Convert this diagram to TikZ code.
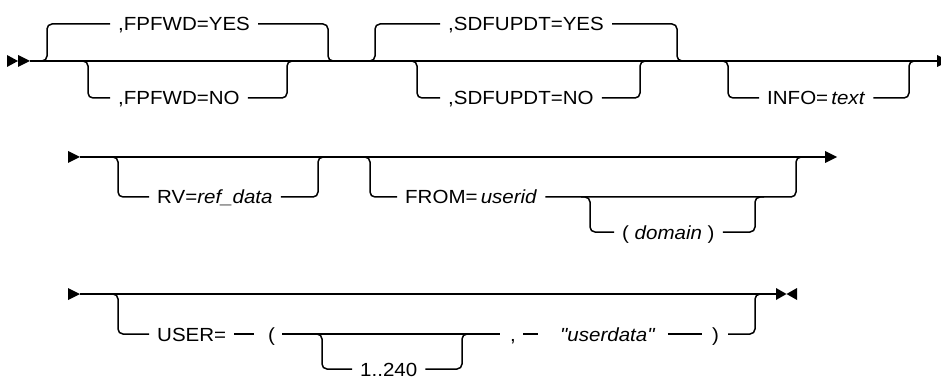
\documentclass[tikz,border=0pt]{standalone}
\usepackage{fontspec}
\setmainfont[FakeStretch=1.08]{Liberation Sans}
\newfontfamily\qfont[FakeStretch=1.08]{Liberation Sans}
\begin{document}
\begin{tikzpicture}[x=1pt,y=-1pt,
  rail/.style={line width=1.5pt, rounded corners=5pt},
  lbl/.style={anchor=base west, inner xsep=8pt, inner ysep=0pt, font=\fontsize{19}{22}\selectfont},
  pun/.style={lbl, inner xsep=0pt},
  tip/.style={fill=black}]
\fill[white] (0,0) rectangle (941,379);
\useasboundingbox (0,0) rectangle (941,379);

% ---------- Row 1 ----------
\fill[tip] (7,55) -- (18,61) -- (7,67) -- cycle;
\fill[tip] (18,55) -- (30,61) -- (18,67) -- cycle;
\draw[line width=1.5pt] (30,61) -- (937,61);
\fill[tip] (937,55) -- (949,61) -- (937,67) -- cycle;

\node[lbl] (fy) at (110,31) {,FPFWD=YES};
\draw[rail] (39,61) -- (47,61) -- (47,24) -- ([yshift=7pt]fy.base west);
\draw[rail] ([yshift=7pt]fy.base east) -- (328,24) -- (328,61) -- (337,61);

\node[lbl] (fn) at (110,105) {,FPFWD=NO};
\draw[rail] (78,61) -- (88,61) -- (88,98) -- ([yshift=7pt]fn.base west);
\draw[rail] ([yshift=7pt]fn.base east) -- (287,98) -- (287,61) -- (297,61);

\node[lbl] (sy) at (440,31) {,SDFUPDT=YES};
\draw[rail] (366,61) -- (375,61) -- (375,24) -- ([yshift=7pt]sy.base west);
\draw[rail] ([yshift=7pt]sy.base east) -- (677,24) -- (677,61) -- (688,61);

\node[lbl] (sn) at (440,105) {,SDFUPDT=NO};
\draw[rail] (407,61) -- (417,61) -- (417,98) -- ([yshift=7pt]sn.base west);
\draw[rail] ([yshift=7pt]sn.base east) -- (640,98) -- (640,61) -- (650,61);

\node[lbl] (inf) at (759,105) {INFO=\,\textit{text}};
\draw[rail] (718,61) -- (728,61) -- (728,98) -- ([yshift=7pt]inf.base west);
\draw[rail] ([yshift=7pt]inf.base east) -- (909,98) -- (909,61) -- (918,61);

% ---------- Row 2 ----------
\fill[tip] (68,151) -- (80,157) -- (68,163) -- cycle;
\draw[line width=1.5pt] (80,157) -- (825,157);
\fill[tip] (825,151) -- (837,157) -- (825,163) -- cycle;

\node[lbl] (rv) at (149,204) {RV=\textit{ref\_data}};
\draw[rail] (108,157) -- (118,157) -- (118,197) -- ([yshift=7pt]rv.base west);
\draw[rail] ([yshift=7pt]rv.base east) -- (318,197) -- (318,157) -- (328,157);

\node[lbl] (fr) at (397,204) {FROM=\,\textit{userid}};
\draw[rail] (360,157) -- (370,157) -- (370,197) -- ([yshift=7pt]fr.base west);
\draw[rail] ([yshift=7pt]fr.base east) -- (796,197) -- (796,157) -- (805,157);

\node[lbl] (dm) at (614,239) {( \textit{domain} )};
\draw[rail] (581,197) -- (590,197) -- (590,232) -- ([yshift=7pt]dm.base west);
\draw[rail] ([yshift=7pt]dm.base east) -- (755,232) -- (755,197) -- (764,197);

% ---------- Row 3 ----------
\fill[tip] (68,288) -- (80,294) -- (68,300) -- cycle;
\draw[line width=1.5pt] (80,294) -- (776,294);
\fill[tip] (776,288) -- (786.5,294) -- (776,300) -- cycle;
\fill[tip] (797,288) -- (786.5,294) -- (797,300) -- cycle;

\node[lbl] (us) at (149,341) {USER=};
\node[pun] (lp) at (268,341) {(};
\node[pun] (cm) at (510,341) {,};
\node[pun] (ud) at (560,341) {\qfont\itshape "userdata"};
\node[pun] (rp) at (712,341) {)};
\node[lbl] (rg) at (352,376) {1..240};

\draw[rail] (108,294) -- (118,294) -- (118,334) -- ([yshift=7pt]us.base west);
\draw[rail] ([yshift=7pt]us.base east) -- ([xshift=-14pt,yshift=7pt]lp.base west);
\draw[rail] ([xshift=7pt,yshift=7pt]lp.base east) -- ([xshift=-10pt,yshift=7pt]cm.base west);
\draw[rail] ([xshift=7pt,yshift=7pt]cm.base east) -- ([xshift=-22pt,yshift=7pt]ud.base west);
\draw[rail] ([xshift=13pt,yshift=7pt]ud.base east) -- ([xshift=-10pt,yshift=7pt]rp.base west);
\draw[rail] ([xshift=9pt,yshift=7pt]rp.base east) -- (755,334) -- (755,294) -- (765,294);

\draw[rail] (312,334) -- (322,334) -- (322,369) -- ([yshift=7pt]rg.base west);
\draw[rail] ([yshift=7pt]rg.base east) -- (462,369) -- (462,334) -- (471,334);
\end{tikzpicture}
\end{document}
